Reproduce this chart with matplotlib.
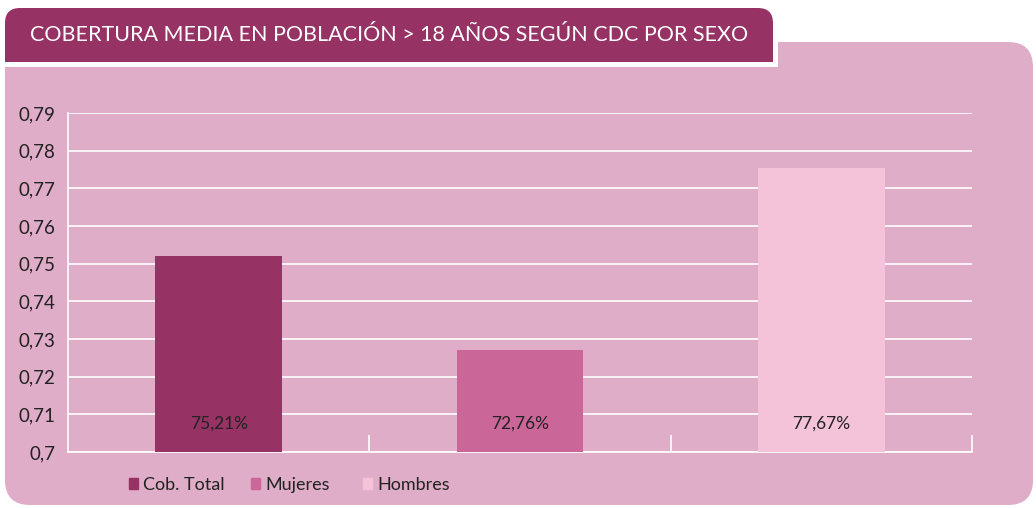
import matplotlib.pyplot as plt
from matplotlib.patches import FancyBboxPatch, Rectangle, Patch

categories = ["Cob. Total", "Mujeres", "Hombres"]
# bar heights as drawn in the reference (labels as printed)
values = [0.7521, 0.7271, 0.7754]
value_labels = ["75,21%", "72,76%", "77,67%"]
yticks = [0.70, 0.71, 0.72, 0.73, 0.74, 0.75, 0.76, 0.77, 0.78, 0.79]
ytick_labels = ["0,7", "0,71", "0,72", "0,73", "0,74", "0,75", "0,76", "0,77", "0,78", "0,79"]
title = "COBERTURA MEDIA EN POBLACIÓN > 18 AÑOS SEGÚN CDC POR SEXO"

colors = ["#963264", "#cb6699", "#f4c3da"]
panel = "#dfadc7"
header = "#963264"
text_col = "#222222"

plt.rcParams["font.family"] = ["Lato", "DejaVu Sans"]

W, H = 1036, 508
fig = plt.figure(figsize=(W / 100, H / 100), dpi=100)
fig.patch.set_facecolor("white")

# background drawn in pixel coordinates
bg = fig.add_axes([0, 0, 1, 1])
bg.set_xlim(0, W)
bg.set_ylim(H, 0)
bg.axis("off")
bg.add_patch(FancyBboxPatch((5 + 25, 42 + 25), 1028 - 50, 463 - 50,
                            boxstyle="round,pad=25", fc=panel, ec="none"))
bg.add_patch(Rectangle((0, 0), 778, 67, fc="white", ec="none"))
bg.add_patch(FancyBboxPatch((5 + 15, 8 + 15), 768 - 30, 54 - 30,
                            boxstyle="round,pad=15", fc=header, ec="none"))
bg.add_patch(Rectangle((5, 35), 768, 27, fc=header, ec="none"))
bg.text(389, 35, title, color="white", fontsize=15.5, ha="center", va="center")

ax = fig.add_axes([68 / W, (H - 452) / H, (972 - 68) / W, (452 - 113) / H])
ax.set_facecolor("none")
x = range(len(categories))
for i in x:
    ax.bar(i, values[i] - 0.7, bottom=0.7, width=0.42, color=colors[i], zorder=3)
    ax.text(i, 0.7075, value_labels[i], ha="center", va="center", fontsize=12.5, color=text_col, zorder=4)

ax.set_ylim(0.7, 0.79)
ax.set_xlim(-0.5, 2.5)
ax.set_yticks(yticks)
ax.set_yticklabels(ytick_labels, fontsize=13.5, color=text_col)
ax.yaxis.grid(True, color="white", linewidth=1.2, zorder=0)
ax.tick_params(axis="y", length=0, pad=9)
ax.set_xticks([0.5, 1.5, 2.5])
ax.set_xticklabels([])
ax.tick_params(axis="x", direction="in", length=12, color="white", width=1.2)
for s in ["top", "right"]:
    ax.spines[s].set_visible(False)
for s in ["left", "bottom"]:
    ax.spines[s].set_color("white")
    ax.spines[s].set_linewidth(1.2)

# legend entries placed one by one, as in the reference
legend_x = [129, 251, 363]
for i, lx in enumerate(legend_x):
    leg = fig.legend(handles=[Patch(color=colors[i])], labels=[categories[i]],
                     loc="center left", bbox_to_anchor=(lx / W, (H - 485) / H),
                     frameon=False, fontsize=13, handlelength=0.5, handleheight=0.5,
                     handletextpad=0.3, borderaxespad=0, borderpad=0)
    for t in leg.get_texts():
        t.set_color(text_col)

fig.savefig("out.png", dpi=100, facecolor="white")
